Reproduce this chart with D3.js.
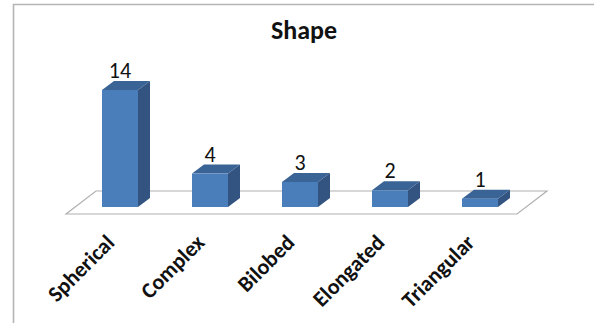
<!DOCTYPE html>
<html>
<head>
<meta charset="utf-8">
<script src="https://cdn.jsdelivr.net/npm/d3@7"></script>
<style>
html, body { margin: 0; padding: 0; background: #fff; }
svg { display: block; }
text { font-family: Carlito, Calibri, "Open Sans", "Noto Sans", sans-serif; fill: #111; }
</style>
</head>
<body>
<svg id="chart" width="594" height="323"></svg>
<script>
const categories = ["Spherical", "Complex", "Bilobed", "Elongated", "Triangular"];
const counts = [14, 4, 3, 2, 1];
const chartTitle = "Shape";

const svg = d3.select("#chart");
const width = 594, height = 323;

// Outer chart frame
svg.append("rect").attr("width", width).attr("height", height).attr("fill", "#fff");
svg.append("path")
  .attr("d", "M13.5,323V4.5H594")
  .attr("fill", "none").attr("stroke", "#b5b5b5").attr("stroke-width", 1.6);

const x = d3.scaleBand().domain(categories).range([75, 525]).paddingInner(0.6).paddingOuter(0.3);
const y = d3.scaleLinear().domain([0, 14]).range([207, 90]);

// Oblique offset of the 3D depth
const depthX = 12, depthY = -9;

// Floor plane
svg.append("path")
  .attr("d", "M66,214H517L547,191H96Z")
  .attr("fill", "none").attr("stroke", "#b0b0b0").attr("stroke-width", 1.2);

const bars = svg.selectAll("g.bar")
  .data(categories.map((c, i) => ({ c, v: counts[i] })))
  .join("g").attr("class", "bar");

bars.each(function (d) {
  const g = d3.select(this);
  const x0 = x(d.c), x1 = x0 + x.bandwidth(), yt = y(d.v), yb = y(0);
  const poly = pts => pts.map(p => p.join(",")).join(" ");
  g.append("polygon").attr("fill", "#335480")
    .attr("points", poly([[x1, yt], [x1 + depthX, yt + depthY], [x1 + depthX, yb + depthY], [x1, yb]]));
  g.append("polygon").attr("fill", "#3a6396")
    .attr("points", poly([[x0, yt], [x0 + depthX, yt + depthY], [x1 + depthX, yt + depthY], [x1, yt]]));
  g.append("rect").attr("fill", "#4a7ebb")
    .attr("x", x0).attr("y", yt).attr("width", x.bandwidth()).attr("height", yb - yt);
  g.append("text")
    .attr("x", (x0 + x1) / 2).attr("y", yt + depthY - 3)
    .attr("text-anchor", "middle").attr("font-size", 22).text(d.v);
});

// Category labels, rotated and anchored at their end
categories.forEach(c => {
  const cx = x(c) + x.bandwidth() / 2 - 16;
  svg.append("text")
    .attr("transform", `translate(${cx},${232}) rotate(-45)`)
    .attr("text-anchor", "end").attr("dominant-baseline", "hanging")
    .attr("font-size", 22).attr("font-weight", 700)
    .text(c);
});

svg.append("text")
  .attr("x", 304).attr("y", 39).attr("text-anchor", "middle")
  .attr("font-size", 26).attr("font-weight", 700).text(chartTitle);
</script>
</body>
</html>
